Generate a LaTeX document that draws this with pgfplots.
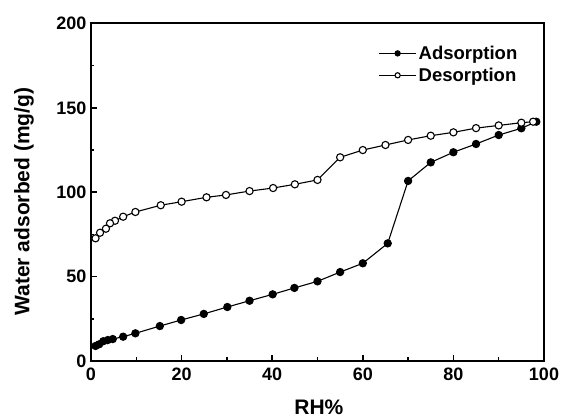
\documentclass[border=0pt]{standalone}
\usepackage{pgfplots}
\pgfplotsset{compat=1.18}
\usepackage{fontspec}
\setmainfont{Liberation Sans}
\begin{document}
\begin{tikzpicture}
\begin{axis}[
  scale only axis,
  width=453pt, height=337.5pt,
  xmin=0, xmax=100, ymin=0, ymax=200,
  xtick={0,20,...,100}, ytick={0,50,...,200},
  minor xtick={10,30,50,70,90}, minor ytick={25,75,125,175},
  tick pos=left, tick align=inside,
  major tick length=6pt, minor tick length=3.5pt,
  axis line style={line width=2pt},
  every tick/.style={line width=1.5pt, black},
  /pgf/number format/assume math mode=true,
  ticklabel style={font=\fontsize{18}{20}\selectfont\bfseries},
  xticklabel style={yshift=-3.5pt},
  yticklabel style={xshift=-1pt},
  label style={font=\fontsize{21}{23}\selectfont\bfseries},
  xlabel={RH\%}, ylabel={Water adsorbed (mg/g)},
  xlabel style={at={(axis description cs:0.503,-0.16)}, anchor=base},
  ylabel style={at={(axis description cs:-0.148,0.4726)}, anchor=center},
  legend style={draw=none, fill=none, at={(0.946,0.94)}, anchor=north east,
    font=\fontsize{18.5}{20}\selectfont\bfseries, row sep=3pt, inner sep=0pt,
    /tikz/every even column/.append style={column sep=3pt}},
  legend cell align=left,
  legend image code/.code={\draw[mark repeat=2, mark phase=2, mark size=2.6pt, line width=1.1pt] plot coordinates {(0pt,0pt)(18.5pt,0pt)(37pt,0pt)};},
]
\addplot[black, line width=1.1pt, mark=*, mark size=3.6pt, mark options={fill=black}] coordinates {
(1,8.9)(1.8,9.9)(2.7,11.7)(3.7,12.4)(4.8,13.0)(7.1,14.4)(9.8,16.4)(15.2,20.7)(19.9,24.3)(24.9,27.9)(30.1,32.0)(35,35.7)(40.1,39.5)(44.9,43.3)(50,47.2)(55,52.7)(60,57.9)(65.5,69.7)(70,106.7)(75,117.7)(80,123.7)(85,128.6)(90,133.9)(95,137.9)(98.3,141.8)};
\addlegendentry{Adsorption}
\addplot[black, line width=1.1pt, mark=*, mark size=3.6pt, mark options={fill=white}] coordinates {
(97.6,141.8)(95,141.2)(90,139.6)(85,138.0)(80,135.5)(75,133.5)(70,131.0)(65,128.0)(60,125.0)(55,120.7)(50,107.3)(45,104.7)(40.2,102.5)(35,100.7)(29.8,98.4)(25.5,97.0)(20,94.4)(15.4,92.3)(9.8,88.3)(7.1,85.5)(5.3,83.1)(4.2,81.6)(3.3,78.4)(2,76.0)(1,72.7)};
\addlegendentry{Desorption}
\end{axis}
\path (current axis.south west) ++(-91pt,-58pt) (current axis.north east) ++(19pt,23.5pt);
\end{tikzpicture}
\end{document}
